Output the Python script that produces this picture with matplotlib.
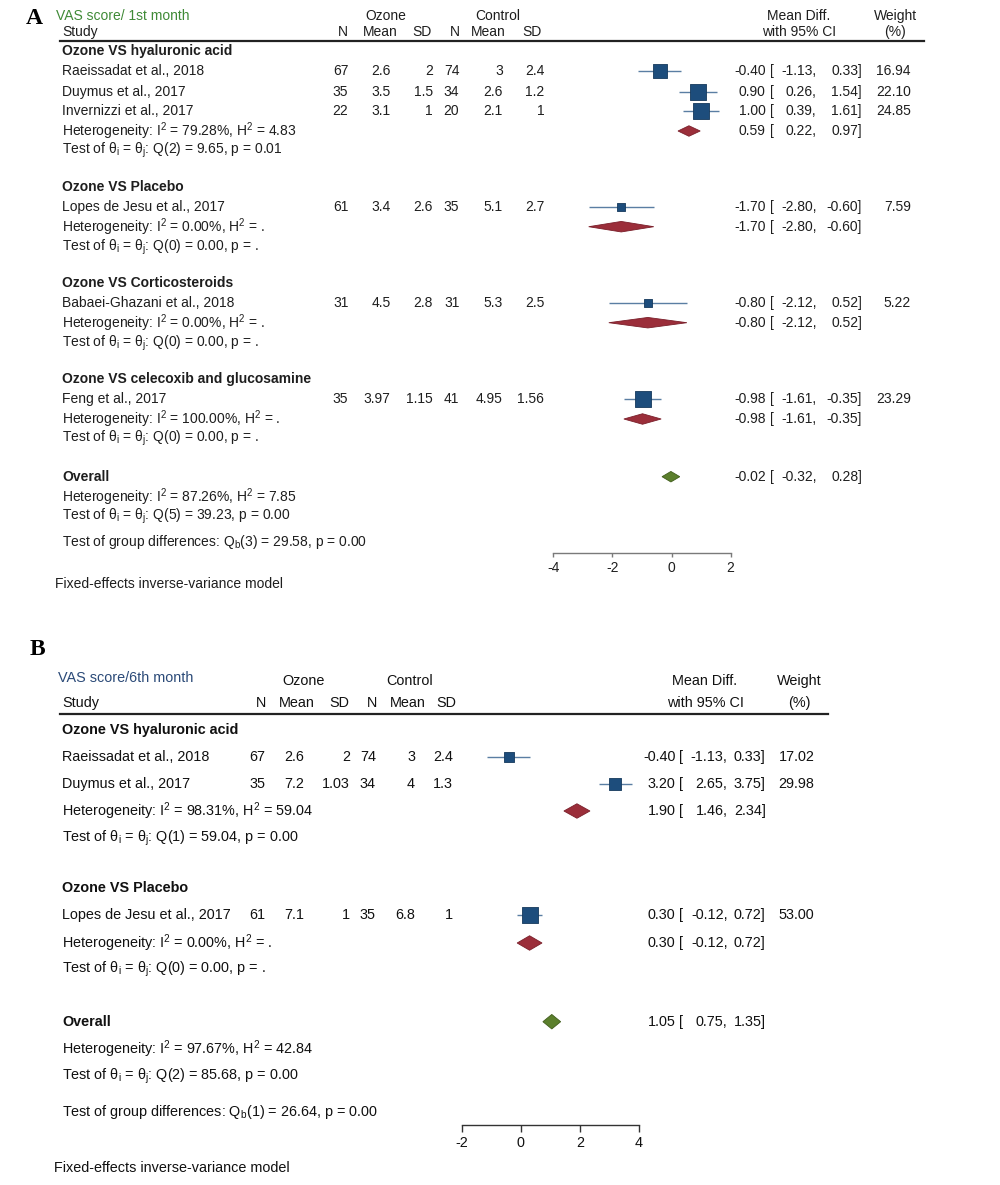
import matplotlib
matplotlib.use("Agg")
import matplotlib.pyplot as plt
from matplotlib import font_manager

# ------------------------------------------------------------------ data A
a_title = "VAS score/ 1st month"
a_groups = ["Ozone VS hyaluronic acid", "Ozone VS Placebo",
            "Ozone VS Corticosteroids", "Ozone VS celecoxib and glucosamine"]
a_studies = ["Raeissadat et al., 2018", "Duymus et al., 2017", "Invernizzi et al., 2017",
             "Lopes de Jesu et al., 2017", "Babaei-Ghazani et al., 2018", "Feng et al., 2017"]
a_study_group = [0, 0, 0, 1, 2, 3]
a_oz_n = [67, 35, 22, 61, 31, 35]
a_oz_mean = [2.6, 3.5, 3.1, 3.4, 4.5, 3.97]
a_oz_sd = [2, 1.5, 1, 2.6, 2.8, 1.15]
a_ct_n = [74, 34, 20, 35, 31, 41]
a_ct_mean = [3, 2.6, 2.1, 5.1, 5.3, 4.95]
a_ct_sd = [2.4, 1.2, 1, 2.7, 2.5, 1.56]
a_md = [-0.40, 0.90, 1.00, -1.70, -0.80, -0.98]
a_lo = [-1.13, 0.26, 0.39, -2.80, -2.12, -1.61]
a_hi = [0.33, 1.54, 1.61, -0.60, 0.52, -0.35]
a_weight = [16.94, 22.10, 24.85, 7.59, 5.22, 23.29]
a_sub_md = [0.59, -1.70, -0.80, -0.98]
a_sub_lo = [0.22, -2.80, -2.12, -1.61]
a_sub_hi = [0.97, -0.60, 0.52, -0.35]
a_sub_i2 = [79.28, 0.00, 0.00, 100.00]
a_sub_h2 = ["4.83", ".", ".", "."]
a_sub_qdf = [2, 0, 0, 0]
a_sub_q = [9.65, 0.00, 0.00, 0.00]
a_sub_p = ["0.01", ".", ".", "."]
a_all = [-0.02, -0.32, 0.28]
a_all_i2, a_all_h2 = 87.26, "7.85"
a_all_qdf, a_all_q, a_all_p = 5, 39.23, "0.00"
a_grp_df, a_grp_q, a_grp_p = 3, 29.58, "0.00"
a_ticks = [-4, -2, 0, 2]

# ------------------------------------------------------------------ data B
b_title = "VAS score/6th month"
b_groups = ["Ozone VS hyaluronic acid", "Ozone VS Placebo"]
b_studies = ["Raeissadat et al., 2018", "Duymus et al., 2017", "Lopes de Jesu et al., 2017"]
b_study_group = [0, 0, 1]
b_oz_n = [67, 35, 61]
b_oz_mean = [2.6, 7.2, 7.1]
b_oz_sd = [2, 1.03, 1]
b_ct_n = [74, 34, 35]
b_ct_mean = [3, 4, 6.8]
b_ct_sd = [2.4, 1.3, 1]
b_md = [-0.40, 3.20, 0.30]
b_lo = [-1.13, 2.65, -0.12]
b_hi = [0.33, 3.75, 0.72]
b_weight = [17.02, 29.98, 53.00]
b_sub_md = [1.90, 0.30]
b_sub_lo = [1.46, -0.12]
b_sub_hi = [2.34, 0.72]
b_sub_i2 = [98.31, 0.00]
b_sub_h2 = ["59.04", "."]
b_sub_qdf = [1, 0]
b_sub_q = [59.04, 0.00]
b_sub_p = ["0.00", "."]
b_all = [1.05, 0.75, 1.35]
b_all_i2, b_all_h2 = 97.67, "42.84"
b_all_qdf, b_all_q, b_all_p = 2, 85.68, "0.00"
b_grp_df, b_grp_q, b_grp_p = 1, 26.64, "0.00"
b_ticks = [-2, 0, 2, 4]

# ------------------------------------------------------------------ fonts
names = {f.name for f in font_manager.fontManager.ttflist}
FONT_A = "Liberation Sans"
if "Liberation Sans Narrow" in names:
    FONT_B, SIZE_B = "Liberation Sans Narrow", 12.3
else:
    FONT_B, SIZE_B = "Liberation Sans", 10.4
SIZE_A = 10.0
plt.rcParams["mathtext.fontset"] = "custom"
plt.rcParams["mathtext.rm"] = "Liberation Sans"
plt.rcParams["mathtext.it"] = "Liberation Sans:italic"
plt.rcParams["mathtext.bf"] = "Liberation Sans:bold"

W, H = 1000, 1185
fig = plt.figure(figsize=(10, 11.85), dpi=100)
fig.patch.set_facecolor("white")

axT = fig.add_axes([0, 0, 1, 1], facecolor="none")
axT.set_xlim(0, W)
axT.set_ylim(H, 0)
axT.axis("off")

BOX = "#1d4d7c"
BOXE = "#15395c"
CIC = "#5a7ea3"
RED = "#9b2e3a"
REDE = "#7a1f2a"
GRN = "#5b7f2c"
GRNE = "#405d1c"


def het_txt(i2, h2):
    return (r"Heterogeneity: I$\mathregular{^2}$ = " + f"{i2:.2f}%, " +
            r"H$\mathregular{^2}$ = " + h2)


def test_txt(df, q, p):
    return (r"Test of $\mathregular{θ_i}$ = $\mathregular{θ_j}$: " +
            f"Q({df}) = {q:.2f}, p = {p}")


def grp_txt(df, q, p):
    return r"Test of group differences: Q$\mathregular{_b}$" + f"({df}) = {q:.2f}, p = {p}"


def panel(L, D):
    font, size, tc = L["font"], L["size"], L["tc"]

    def T(x, y, s, ha="left", **kw):
        kw.setdefault("color", tc)
        axT.text(x, y, s, ha=ha, va="center", fontsize=kw.pop("fs", size),
                 family=font, **kw)

    # forest axes: x in effect units, y in figure pixels
    ax = fig.add_axes([0, 0, 1, 1], facecolor="none")
    x0, s = L["x0"], L["scale"]
    ax.set_xlim(-x0 / s, (W - x0) / s)
    ax.set_ylim(H, 0)
    for sp in ["left", "right", "top"]:
        ax.spines[sp].set_visible(False)
    ax.yaxis.set_visible(False)
    ax.spines["bottom"].set_position(("data", L["y_axis"]))
    ax.spines["bottom"].set_bounds(D["ticks"][0], D["ticks"][-1])
    ax.spines["bottom"].set_color(L["axc"])
    ax.spines["bottom"].set_linewidth(1.0)
    ax.set_xticks(D["ticks"])
    ax.set_xticklabels([str(t) for t in D["ticks"]])
    ax.tick_params(axis="x", direction="out", length=L["ticklen"], width=1.0,
                   color=L["axc"], labelsize=size, labelcolor=tc, pad=L["tickpad"])
    for lab in ax.get_xticklabels():
        lab.set_family(font)

    # letter + headers
    axT.text(L["letter_x"], L["letter_y"], L["letter"], ha="left", va="center",
             fontsize=17, fontweight="bold", family="Liberation Serif", color="black")
    T(L["title_x"], L["title_y"], D["title"], color=L["title_c"])
    h1, h2 = L["hdr_y"]
    T(L["ozone_c"], h1, "Ozone", ha="center")
    T(L["control_c"], h1, "Control", ha="center")
    T(L["md_c"], h1, "Mean Diff.", ha="center")
    T(L["wt_c"], h1, "Weight", ha="center")
    T(62, h2, "Study")
    for xc, lab in zip(L["hdr_cols"], ["N", "Mean", "SD", "N", "Mean", "SD"]):
        T(xc, h2, lab, ha="center")
    T(L["md_c"], h2, "with 95% CI", ha="center")
    T(L["wt_c"], h2, "(%)", ha="center")
    axT.plot([60, L["line_end"]], [L["line_y"], L["line_y"]], color="#222222", lw=1.6)

    cols = L["num_cols"]
    ex, bx, lx, hx, wx = L["ci_cols"]

    def ci_text(y, m, lo, hi):
        T(ex, y, f"{m:.2f}", ha="right")
        T(bx, y, "[")
        T(lx, y, f"{lo:.2f},", ha="right")
        T(hx, y, f"{hi:.2f}]", ha="right")

    def diamond(y, m, lo, hi, fc, ec):
        hh = L["dia_h"] / 2
        ax.fill([lo, m, hi, m], [y, y - hh, y, y + hh], facecolor=fc,
                edgecolor=ec, lw=0.6, zorder=3)

    rows = L["rows"]
    si = 0
    for g, gname in enumerate(D["groups"]):
        r = rows[g]
        T(62, r["sub"], gname, fontweight="bold")
        idx = [i for i, gg in enumerate(D["study_group"]) if gg == g]
        for k, i in enumerate(idx):
            y = r["studies"][k]
            T(62, y, D["studies"][i])
            vals = [D["oz_n"][i], D["oz_mean"][i], D["oz_sd"][i],
                    D["ct_n"][i], D["ct_mean"][i], D["ct_sd"][i]]
            for xr, v in zip(cols, vals):
                T(xr, y, f"{v:g}", ha="right")
            ci_text(y, D["md"][i], D["lo"][i], D["hi"][i])
            T(wx, y, f"{D['weight'][i]:.2f}", ha="right")
            ax.hlines(y, D["lo"][i], D["hi"][i], color=CIC, lw=1.0, zorder=2)
            side = L["box_k"] * D["weight"][i] ** 0.5 * 0.72
            ax.scatter([D["md"][i]], [y], marker="s", s=side ** 2, color=BOX,
                       edgecolor=BOXE, linewidth=0.6, zorder=4)
        T(62, r["het"], het_txt(D["sub_i2"][g], D["sub_h2"][g]))
        T(62, r["test"], test_txt(D["sub_qdf"][g], D["sub_q"][g], D["sub_p"][g]))
        diamond(r["het"], D["sub_md"][g], D["sub_lo"][g], D["sub_hi"][g], RED, REDE)
        ci_text(r["het"], D["sub_md"][g], D["sub_lo"][g], D["sub_hi"][g])

    o = L["overall"]
    T(62, o["label"], "Overall", fontweight="bold")
    m, lo, hi = D["all"]
    diamond(o["label"], m, lo, hi, GRN, GRNE)
    ci_text(o["label"], m, lo, hi)
    T(62, o["het"], het_txt(D["all_i2"], D["all_h2"]))
    T(62, o["test"], test_txt(D["all_qdf"], D["all_q"], D["all_p"]))
    T(62, o["grp"], grp_txt(D["grp_df"], D["grp_q"], D["grp_p"]))
    T(L["fixed_x"], o["fixed"], "Fixed-effects inverse-variance model")


DA = dict(title=a_title, groups=a_groups, studies=a_studies, study_group=a_study_group,
          oz_n=a_oz_n, oz_mean=a_oz_mean, oz_sd=a_oz_sd, ct_n=a_ct_n,
          ct_mean=a_ct_mean, ct_sd=a_ct_sd, md=a_md, lo=a_lo, hi=a_hi,
          weight=a_weight, sub_md=a_sub_md, sub_lo=a_sub_lo, sub_hi=a_sub_hi,
          sub_i2=a_sub_i2, sub_h2=a_sub_h2, sub_qdf=a_sub_qdf, sub_q=a_sub_q,
          sub_p=a_sub_p, all=a_all, all_i2=a_all_i2, all_h2=a_all_h2,
          all_qdf=a_all_qdf, all_q=a_all_q, all_p=a_all_p, grp_df=a_grp_df,
          grp_q=a_grp_q, grp_p=a_grp_p, ticks=a_ticks)
DB = dict(title=b_title, groups=b_groups, studies=b_studies, study_group=b_study_group,
          oz_n=b_oz_n, oz_mean=b_oz_mean, oz_sd=b_oz_sd, ct_n=b_ct_n,
          ct_mean=b_ct_mean, ct_sd=b_ct_sd, md=b_md, lo=b_lo, hi=b_hi,
          weight=b_weight, sub_md=b_sub_md, sub_lo=b_sub_lo, sub_hi=b_sub_hi,
          sub_i2=b_sub_i2, sub_h2=b_sub_h2, sub_qdf=b_sub_qdf, sub_q=b_sub_q,
          sub_p=b_sub_p, all=b_all, all_i2=b_all_i2, all_h2=b_all_h2,
          all_qdf=b_all_qdf, all_q=b_all_q, all_p=b_all_p, grp_df=b_grp_df,
          grp_q=b_grp_q, grp_p=b_grp_p, ticks=b_ticks)

LA = dict(font=FONT_A, size=SIZE_A, tc="#1e1e1e", x0=671.5, scale=29.57,
          y_axis=553.3, ticklen=3, tickpad=2.5, axc="#7a7a7a",
          letter="A", letter_x=26, letter_y=19, title_x=56.5, title_y=15.7,
          title_c="#3f8a36", hdr_y=(15.7, 32.0), ozone_c=385.7, control_c=497.5,
          md_c=799, wt_c=895.3, hdr_cols=[343, 380, 421.7, 455, 488, 531.7],
          line_end=924, line_y=40.7,
          num_cols=[348.3, 390.7, 432.7, 459.3, 503, 544.3],
          ci_cols=[765.7, 770, 816.5, 862, 910.7], dia_h=10.5, box_k=3.25,
          rows=[dict(sub=50.7, studies=[71, 91.7, 111], het=131, test=150.7),
                dict(sub=186.7, studies=[207.3], het=226.7, test=247),
                dict(sub=283.3, studies=[303.3], het=322.7, test=343.3),
                dict(sub=379.3, studies=[399], het=419, test=438.3)],
          overall=dict(label=476.7, het=497.3, test=516.7, grp=542.3, fixed=584),
          fixed_x=54.7)

LB = dict(font=FONT_B, size=SIZE_B, tc="#111111", x0=520.7, scale=29.6,
          y_axis=1125, ticklen=5, tickpad=3, axc="#333333",
          letter="B", letter_x=30, letter_y=649.3, title_x=58.3, title_y=677.7,
          title_c="#2b4a78", hdr_y=(681, 702.7), ozone_c=303.3, control_c=410,
          md_c=705, wt_c=799.3, hdr_cols=[260.7, 296.7, 339, 371.7, 407.7, 446],
          line_end=827.7, line_y=714,
          num_cols=[265, 304, 350, 376, 415, 453.3],
          ci_cols=[675.3, 678.5, 727.5, 765.7, 814.3], dia_h=14.5, box_k=2.25,
          rows=[dict(sub=730, studies=[757.3, 784.3], het=811, test=838.3),
                dict(sub=888.3, studies=[915.3], het=943, test=969)],
          overall=dict(label=1021.7, het=1049, test=1076, grp=1111.7, fixed=1168.3),
          fixed_x=54.3)

panel(LA, DA)
panel(LB, DB)

fig.savefig("out.png", dpi=100, facecolor="white")
